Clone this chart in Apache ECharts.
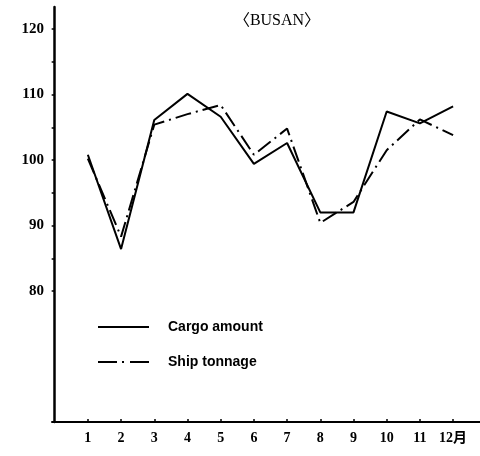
<!DOCTYPE html>
<html><head><meta charset="utf-8">
<script src="https://cdn.jsdelivr.net/npm/echarts@6/dist/echarts.min.js"></script>
<style>html,body{margin:0;padding:0;background:#fff}#c{width:480px;height:456px}</style>
</head><body><div id="c"></div>
<script>
const months = [1,2,3,4,5,6,7,8,9,10,11,12];
const cargoAmount = [100.8, 86.4, 106.1, 110.1, 106.6, 99.4, 102.6, 92.0, 92.0, 107.4, 105.6, 108.2];
const shipTonnage = [100.2, 88.3, 105.4, 107.0, 108.4, 100.8, 104.8, 90.4, 93.6, 101.5, 106.2, 103.8];
const yTickValues = [80,85,90,95,100,105,110,115,120];
const yLabelValues = [80,90,100,110,120];
const seriesNames = ['Cargo amount', 'Ship tonnage'];
const titleText = '〈BUSAN〉';

const chart = echarts.init(document.getElementById('c'), null, {renderer:'canvas'});
const serif = '"Liberation Serif","Noto Sans CJK SC",serif';
chart.setOption({
  animation:false,
  backgroundColor:'#fff',
  graphic:[{type:'text', x:277, y:21, style:{text:titleText, align:'center', verticalAlign:'middle', fontFamily:serif, fontSize:16, fill:'#000'}}],
  legend:{
    orient:'vertical', left:97, top:320, padding:0, itemWidth:51, itemHeight:14, itemGap:21,
    data:[{name:seriesNames[0]}, {name:seriesNames[1], lineStyle:{type:[19,5,2,6]}}],
    itemStyle:{opacity:0},
    textStyle:{fontFamily:'"Liberation Sans",Arial,sans-serif', fontWeight:'bold', fontSize:14, color:'#000', padding:[0,0,0,14]}
  },
  grid:{left:52, right:0, top:7, bottom:34, containLabel:false},
  xAxis:{
    type:'value', min:-0.08, max:12.81,
    splitLine:{show:false},
    axisLine:{lineStyle:{color:'#000', width:2}},
    axisTick:{show:true, inside:true, length:3, customValues:months, lineStyle:{color:'#000', width:1.5}},
    axisLabel:{customValues:months, margin:9, fontFamily:serif, fontWeight:'bold', fontSize:14, color:'#000',
      formatter:v => v===12 ? '12月' : String(v)}
  },
  yAxis:{
    type:'value', min:60, max:123.36,
    splitLine:{show:false},
    axisLine:{show:true, lineStyle:{color:'#000', width:2.5}},
    axisTick:{show:true, length:3, customValues:yTickValues, lineStyle:{color:'#000', width:1.5}},
    axisLabel:{customValues:yLabelValues, margin:8, fontFamily:serif, fontWeight:'bold', fontSize:15, color:'#000'}
  },
  series:[
    {name:seriesNames[0], type:'line', symbol:'none', data:months.map((m,i)=>[m,cargoAmount[i]]),
     lineStyle:{color:'#000', width:2}, itemStyle:{color:'#000'}},
    {name:seriesNames[1], type:'line', symbol:'none', data:months.map((m,i)=>[m,shipTonnage[i]]),
     lineStyle:{color:'#000', width:2, type:[16,5,2,5]}, itemStyle:{color:'#000'}}
  ]
});
</script></body></html>
